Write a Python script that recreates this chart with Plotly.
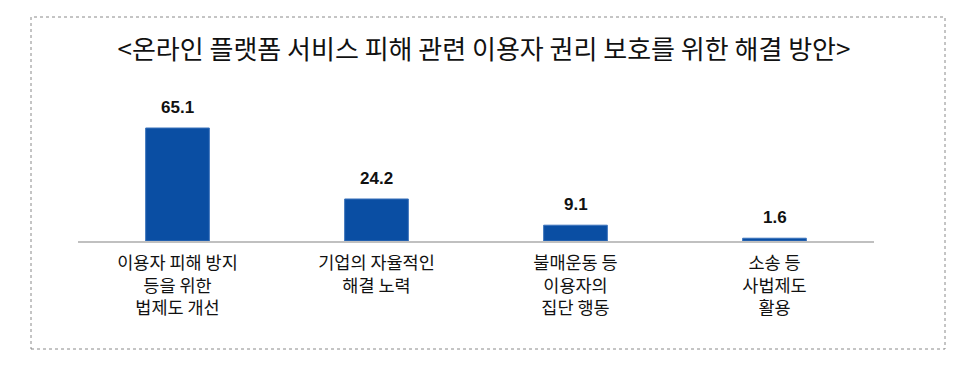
import plotly.graph_objects as go

title_text = "<온라인 플랫폼 서비스 피해 관련 이용자 권리 보호를 위한 해결 방안>"
categories = ["이용자 피해 방지<br>등을 위한<br>법제도 개선",
              "기업의 자율적인<br>해결 노력",
              "불매운동 등<br>이용자의<br>집단 행동",
              "소송 등<br>사법제도<br>활용"]
values = [65.1, 24.2, 9.1, 1.6]
value_labels = ["65.1", "24.2", "9.1", "1.6"]

KR = "Noto Sans CJK KR"

# plot area in figure pixels (page renders with an 8px offset)
L, R, T, B = 70, 866, 92, 233

fig = go.Figure()
fig.add_trace(go.Bar(
    x=categories, y=values,
    marker=dict(color="#0a4ea3", line=dict(color="#3a72bb", width=1)),
    width=0.32, hoverinfo="skip",
))

for c, v, t in zip(categories, values, value_labels):
    fig.add_annotation(x=c, y=v, text="<b>%s</b>" % t, showarrow=False,
                       yanchor="bottom", yshift=9,
                       font=dict(family="Arial, Liberation Sans", size=17, color="#111111"))

# dashed frame around the chart (figure px -> paper coords)
fig.add_shape(type="rect", xref="paper", yref="paper",
              x0=(23 - L) / (R - L), x1=(937 - L) / (R - L),
              y0=(B - 341) / (B - T), y1=(B - 9) / (B - T),
              line=dict(color="#8a8a8a", width=1, dash="dot"), layer="below")

fig.update_layout(
    width=960, height=372,
    margin=dict(l=L, r=960 - R, t=T, b=372 - B),
    paper_bgcolor="white", plot_bgcolor="white",
    showlegend=False,
    title=dict(text=title_text.replace("<", "&lt;").replace(">", "&gt;"),
               x=(484 - 8) / 960, xanchor="center", y=1 - 42 / 372, yanchor="middle",
               font=dict(family=KR, size=26, color="#111111")),
    xaxis=dict(showline=True, linecolor="#c0c0c0", linewidth=1.5,
               showgrid=False, ticks="", zeroline=False,
               ticklabelstandoff=5,
               tickfont=dict(family=KR, size=17.5, color="#111111"),
               fixedrange=True),
    yaxis=dict(range=[0, (B - T) / (113 / 65.1)], visible=False,
               showgrid=False, zeroline=False, fixedrange=True),
)

fig.write_html("out.html")
